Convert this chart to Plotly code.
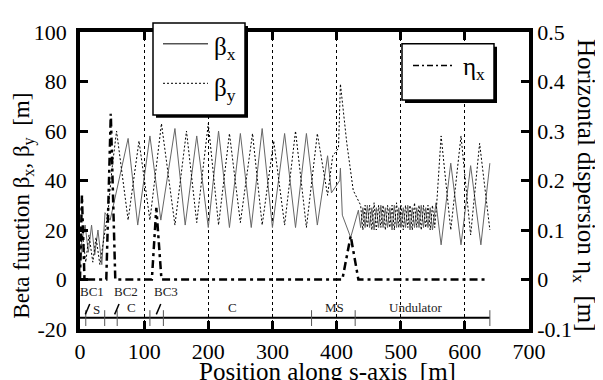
import plotly.graph_objects as go

# ---------------- data ----------------
s_bx = [0, 3, 8, 13, 18, 23, 28, 34, 39, 47, 75, 90, 109, 126, 148, 164, 182, 200, 216, 233,
        250, 267, 284, 300, 319, 336, 353, 370, 386, 392, 405, 406, 409, 422,
        434, 437.5, 441, 444.5, 448, 451.5, 455, 458.5, 462, 465.5, 469, 472.5, 476, 479.5,
        483, 486.5, 490, 493.5, 497, 500.5, 504, 507.5, 511, 514.5, 518, 521.5, 525, 528.5,
        532, 535.5, 539, 542.5, 546, 549.5, 555,
        563, 578, 594, 609, 625, 639]
beta_x = [3, 16, 22, 11, 22, 10, 20, 6, 27, 24, 57, 22, 58, 24, 61, 22, 58, 21, 60, 21,
          59, 21, 61, 21, 59, 21, 59, 22, 50, 35, 40, 45, 26, 17,
          28, 21, 29, 21, 30, 21, 29, 20, 29, 21, 30, 21, 29, 21,
          29, 20, 30, 21, 29, 21, 29, 21, 30, 20, 29, 21, 29, 21,
          30, 21, 29, 21, 29, 20, 31,
          14, 47, 14, 46, 14, 47]

s_by = [0, 4, 9, 14, 20, 25, 31, 37, 44, 50, 57, 75, 92, 109, 127, 148, 166, 182, 200, 216,
        233, 250, 269, 284, 302, 319, 336, 353, 370, 386, 394, 403, 406, 416, 426,
        437.5, 441, 444.5, 448, 451.5, 455, 458.5, 462, 465.5, 469, 472.5, 476, 479.5,
        483, 486.5, 490, 493.5, 497, 500.5, 504, 507.5, 511, 514.5, 518, 521.5, 525, 528.5,
        532, 535.5, 539, 542.5, 546, 549.5, 553, 556,
        563, 578, 594, 609, 623, 639]
beta_y = [12, 18, 7, 18, 7, 17, 6, 16, 28, 45, 60, 24, 56, 24, 63, 22, 60, 23, 63, 22,
          59, 23, 59, 22, 56, 22, 60, 21, 59, 34, 50, 53, 79, 55, 36,
          30, 20, 30, 21, 30, 20, 31, 20, 30, 21, 30, 20, 30,
          21, 30, 20, 31, 21, 30, 20, 30, 21, 30, 20, 31, 21, 30,
          20, 30, 21, 30, 20, 30, 21, 30,
          58, 20, 58, 18, 55, 20]

s_eta = [0, 3, 7, 41, 48, 55, 112, 119, 127, 409, 422, 434, 633]
eta_x = [0, 0.17, 0, 0, 0.335, 0, 0, 0.145, 0, 0, 0.088, 0, 0]

# lattice sections
lat_ticks = [9, 38.5, 58, 109, 130, 361, 429, 639]
lat_end = 639
lat_labels = ["BC1", "BC2", "BC3", "S", "C", "C", "MS", "Undulator"]
lat_label_s = [19, 72, 134, 25, 80, 237, 397, 523]
lat_label_y = [-4.8, -4.8, -4.8, -12.3, -11.5, -11.5, -11.5, -11.5]
slash_s = [8.3, 54, 119]

x_ticks = [0, 100, 200, 300, 400, 500, 600, 700]
y_ticks = [-20, 0, 20, 40, 60, 80, 100]
y2_ticks = [-0.1, 0, 0.1, 0.2, 0.3, 0.4, 0.5]
y2_text = ["-0.1", "0", "0.1", "0.2", "0.3", "0.4", "0.5"]

# ---------------- layout geometry ----------------
# page body has an 8px margin, so the figure is drawn 8px in from the top-left
OFF = 8
W, H = 603 - OFF, 380 - OFF
L, R, T, B = 80 - OFF, 74, 28 - OFF, 51
PW, PH = W - L - R, H - T - B
# helpers take screen pixels (as in the reference picture)
def px(x): return (x - OFF - L) / PW
def py(y): return (H - B - (y - OFF)) / PH

FONT = "Liberation Serif"

fig = go.Figure()
fig.add_trace(go.Scatter(x=s_bx, y=beta_x, mode="lines", line=dict(color="#666666", width=1),
                         showlegend=False))
fig.add_trace(go.Scatter(x=s_by, y=beta_y, mode="lines",
                         line=dict(color="black", width=1, dash="2px,2px"), showlegend=False))
fig.add_trace(go.Scatter(x=s_eta, y=eta_x, mode="lines", yaxis="y2",
                         line=dict(color="black", width=2.5, dash="8px,4px,3px,4px"),
                         showlegend=False))

# lattice line
lat_y = -15.5
fig.add_trace(go.Scatter(x=[0, lat_end], y=[lat_y, lat_y], mode="lines",
                         line=dict(color="black", width=2), showlegend=False))
tx, ty = [], []
for s in lat_ticks:
    tx += [s, s, None]
    ty += [-12.4, -18.8, None]
fig.add_trace(go.Scatter(x=tx, y=ty, mode="lines", line=dict(color="#555555", width=1),
                         showlegend=False))
sx, sy = [], []
for s in slash_s:
    sx += [s, s + 6.9, None]
    sy += [-14.1, -9.9, None]
fig.add_trace(go.Scatter(x=sx, y=sy, mode="lines", line=dict(color="black", width=1.5),
                         showlegend=False))

annotations = []
for lab, s, y in zip(lat_labels, lat_label_s, lat_label_y):
    annotations.append(dict(x=s, y=y, xref="x", yref="y", text=lab, showarrow=False,
                            font=dict(family=FONT, size=13, color="#222222"),
                            xanchor="center", yanchor="middle"))

# axis titles
annotations.append(dict(x=px(24), y=py(204), xref="paper", yref="paper", showarrow=False,
                        text="Beta function β<sub>x</sub>, β<sub>y</sub>  [m]", textangle=-90,
                        font=dict(family=FONT, size=23, color="black"),
                        xanchor="center", yanchor="middle"))
annotations.append(dict(x=px(327), y=py(372), xref="paper", yref="paper", showarrow=False,
                        text="Position along s-axis  [m]",
                        font=dict(family=FONT, size=25, color="black"),
                        xanchor="center", yanchor="middle"))
annotations.append(dict(x=px(584), y=py(183), xref="paper", yref="paper", showarrow=False,
                        text="Horizontal dispersion η<sub>x</sub>  [m]", textangle=90,
                        font=dict(family=FONT, size=25, color="black"),
                        xanchor="center", yanchor="middle"))

# legend text
annotations.append(dict(x=px(212), y=py(45), xref="paper", yref="paper", showarrow=False,
                        text="β<sub>x</sub>", font=dict(family=FONT, size=25, color="black"),
                        xanchor="left", yanchor="middle"))
annotations.append(dict(x=px(212), y=py(86), xref="paper", yref="paper", showarrow=False,
                        text="β<sub>y</sub>", font=dict(family=FONT, size=25, color="black"),
                        xanchor="left", yanchor="middle"))
annotations.append(dict(x=px(461), y=py(65), xref="paper", yref="paper", showarrow=False,
                        text="η<sub>x</sub>", font=dict(family=FONT, size=25, color="black"),
                        xanchor="left", yanchor="middle"))

shapes = []
def box(x0, y0, x1, y1):
    shapes.append(dict(type="rect", xref="paper", yref="paper",
                       x0=px(x0 + 3), x1=px(x1 + 3), y0=py(y0 + 3), y1=py(y1 + 3),
                       fillcolor="black", line=dict(width=0), layer="above"))
    shapes.append(dict(type="rect", xref="paper", yref="paper",
                       x0=px(x0), x1=px(x1), y0=py(y0), y1=py(y1),
                       fillcolor="white", line=dict(color="black", width=1.5), layer="above"))
box(153, 19, 245, 112)
box(402, 40, 494, 97)
shapes.append(dict(type="line", xref="paper", yref="paper", x0=px(163), x1=px(208),
                   y0=py(40), y1=py(40), line=dict(color="black", width=1), layer="above"))
shapes.append(dict(type="line", xref="paper", yref="paper", x0=px(163), x1=px(208),
                   y0=py(80), y1=py(80), line=dict(color="black", width=1, dash="2px,2px"),
                   layer="above"))
shapes.append(dict(type="line", xref="paper", yref="paper", x0=px(413), x1=px(453),
                   y0=py(62), y1=py(62), line=dict(color="black", width=1.5, dash="6px,3px,2px,3px"),
                   layer="above"))

axis_common = dict(showline=True, linecolor="black", linewidth=3.5, ticks="inside",
                   ticklen=8, tickwidth=3, tickcolor="black",
                   tickfont=dict(family=FONT, size=22, color="black"), zeroline=False)

fig.update_layout(
    width=W, height=H, margin=dict(l=L, r=R, t=T, b=B),
    paper_bgcolor="white", plot_bgcolor="white",
    font=dict(family=FONT, color="black"),
    showlegend=False,
    xaxis=dict(range=[0, 700], tickvals=x_ticks, mirror="ticks",
               showgrid=True, gridcolor="black", gridwidth=1, griddash="dot",
               **axis_common),
    yaxis=dict(range=[-20, 100], tickvals=y_ticks, ticktext=[str(v) for v in y_ticks],
               showgrid=False, ticklabelstandoff=5, **axis_common),
    yaxis2=dict(range=[-0.1, 0.5], tickvals=y2_ticks, ticktext=y2_text, overlaying="y",
                side="right", showgrid=False, ticklabelstandoff=0, **axis_common),
    annotations=annotations, shapes=shapes,
)

fig.write_html("out.html")
